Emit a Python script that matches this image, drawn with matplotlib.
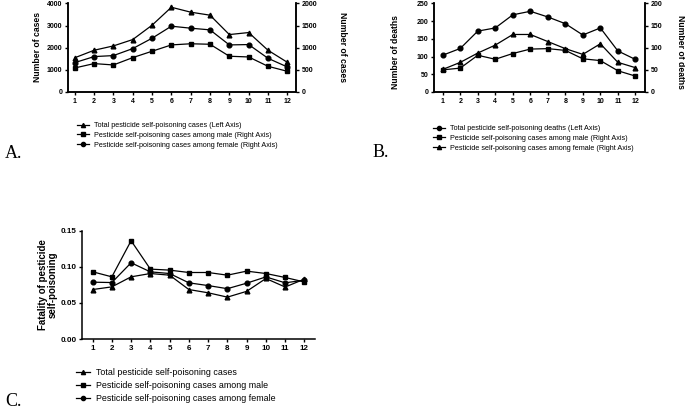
import matplotlib
matplotlib.use("Agg")
import matplotlib.pyplot as plt
from matplotlib.lines import Line2D

# meses
meses = list(range(1, 12 + 1))

# Panel A: casos
casos_total = [1547, 1887, 2083, 2370, 3019, 3830, 3608, 3472, 2596, 2687, 1887, 1343]
casos_mujer = [664, 800, 823, 981, 1215, 1487, 1442, 1404, 1064, 1072, 762, 566]
casos_hombre = [543, 642, 611, 777, 921, 1064, 1090, 1079, 808, 792, 581, 468]

# Panel B: muertes
muertes_total = [104, 123, 172, 181, 218, 228, 212, 193, 161, 181, 116, 92]
muertes_mujer = [51, 67, 88, 106, 130, 130, 114, 98, 85, 109, 67, 55]
muertes_hombre = [50, 54, 83, 74, 87, 97, 98, 94, 75, 71, 48, 36]

# Panel C: letalidad
letal_total = [0.0685, 0.0722, 0.0861, 0.0907, 0.0884, 0.0685, 0.064, 0.058, 0.066, 0.0838, 0.072, 0.083]
letal_hombre = [0.0931, 0.0861, 0.1361, 0.0968, 0.0954, 0.0921, 0.0921, 0.0884, 0.094, 0.0907, 0.0852, 0.079]
letal_mujer = [0.0787, 0.0782, 0.1056, 0.093, 0.0907, 0.0778, 0.074, 0.0697, 0.0773, 0.086, 0.0778, 0.0815]

leyenda_a = ["Total pesticide self-poisoning cases (Left Axis)",
             "Pesticide self-poisoning cases among male (Right Axis)",
             "Pesticide self-poisoning cases among female (Right Axis)"]
leyenda_b = ["Total pesticide self-poisoning deaths (Left Axis)",
             "Pesticide self-poisoning cases among male (Right Axis)",
             "Pesticide self-poisoning cases among female (Right Axis)"]
leyenda_c = ["Total pesticide self-poisoning cases",
             "Pesticide self-poisoning cases among male",
             "Pesticide self-poisoning cases among female"]

plt.rcParams["font.family"] = ["Liberation Sans", "DejaVu Sans"]

W, H = 685, 411
fig = plt.figure(figsize=(W / 100, H / 100), dpi=100)


# caja en pixeles -> fraccion de figura
def caja(l, t, r, b):
    return [l / W, 1 - b / H, (r - l) / W, (b - t) / H]


def estilo(ax, fs):
    for s in ["left", "bottom", "right"]:
        ax.spines[s].set_linewidth(1.1)
    ax.spines["top"].set_visible(False)
    ax.tick_params(direction="out", length=2.5, width=1, pad=1.5, labelsize=fs)
    for t in ax.get_xticklabels() + ax.get_yticklabels():
        t.set_fontweight("bold")


def linea(ax, y, m, ms=3.4):
    ax.plot(meses, y, color="black", lw=0.9, marker=m, ms=ms, clip_on=False)


def leyenda(x, y, marcadores, textos, fs, sep):
    handles = [Line2D([0], [0], color="black", lw=0.9, marker=m, ms=3) for m in marcadores]
    fig.legend(handles, textos, loc="upper left", bbox_to_anchor=(x / W, 1 - y / H),
               frameon=False, fontsize=fs, handlelength=1.6, handletextpad=0.7,
               labelspacing=sep, borderpad=0, borderaxespad=0)


# ---- A ----
axA = fig.add_axes(caja(68, 3.5, 296, 92))
axA2 = axA.twinx()
linea(axA, casos_total, "^")
linea(axA2, casos_mujer, "o")
linea(axA2, casos_hombre, "s")
axA.set_ylim(0, 4000)
axA.set_yticks(range(0, 4001, 1000))
axA2.set_ylim(0, 2000)
axA2.set_yticks(range(0, 2001, 500))
axA.set_xlim(0.65, 12.45)
axA.set_xticks(meses)
estilo(axA, 5)
estilo(axA2, 5)
fig.text(38 / W, 1 - 47 / H, "Number of cases", rotation=90, ha="center", va="center",
         fontsize=6.2, fontweight="bold")
fig.text(343 / W, 1 - 47 / H, "Number of cases", rotation=270, ha="center", va="center",
         fontsize=6.2, fontweight="bold")
leyenda(77, 122, ["^", "s", "o"], leyenda_a, 5.2, 0.4)
fig.text(5 / W, 1 - 158 / H, "A.", fontsize=13, family="Liberation Serif")

# ---- B ----
axB = fig.add_axes(caja(434, 3.5, 645, 92))
axB2 = axB.twinx()
linea(axB, muertes_total, "o")
linea(axB2, muertes_mujer, "^")
linea(axB2, muertes_hombre, "s")
axB.set_ylim(0, 250)
axB.set_yticks(range(0, 251, 50))
axB2.set_ylim(0, 200)
axB2.set_yticks(range(0, 201, 50))
axB.set_xlim(0.5, 12.55)
axB.set_xticks(meses)
estilo(axB, 5)
estilo(axB2, 5)
fig.text(395 / W, 1 - 52 / H, "Number of deaths", rotation=90, ha="center", va="center",
         fontsize=6.2, fontweight="bold")
fig.text(680 / W, 1 - 52 / H, "Number of deaths", rotation=270, ha="center", va="center",
         fontsize=6.2, fontweight="bold")
leyenda(433, 125, ["o", "s", "^"], leyenda_b, 5.2, 0.4)
fig.text(373 / W, 1 - 157 / H, "B.", fontsize=13, family="Liberation Serif")

# ---- C ----
axC = fig.add_axes(caja(82, 230.7, 315, 339))
linea(axC, letal_total, "^")
linea(axC, letal_hombre, "s")
linea(axC, letal_mujer, "o")
axC.set_ylim(0, 0.15)
axC.set_yticks([0.00, 0.05, 0.10, 0.15])
axC.set_yticklabels(["0.00", "0.05", "0.10", "0.15"])
axC.set_xlim(0.45, 12.55)
axC.set_xticks(meses)
axC.spines["right"].set_visible(False)
estilo(axC, 5.8)
fig.text(48 / W, 1 - 285 / H, "Fatality of pesticide\nself-poisoning", rotation=90,
         ha="center", va="center", fontsize=7, fontweight="bold", linespacing=1.0)
leyenda(76, 368, ["^", "s", "o"], leyenda_c, 6.4, 0.45)
fig.text(5 / W, 1 - 406 / H, "C.", fontsize=13, family="Liberation Serif")

fig.savefig("out.png", dpi=100)
